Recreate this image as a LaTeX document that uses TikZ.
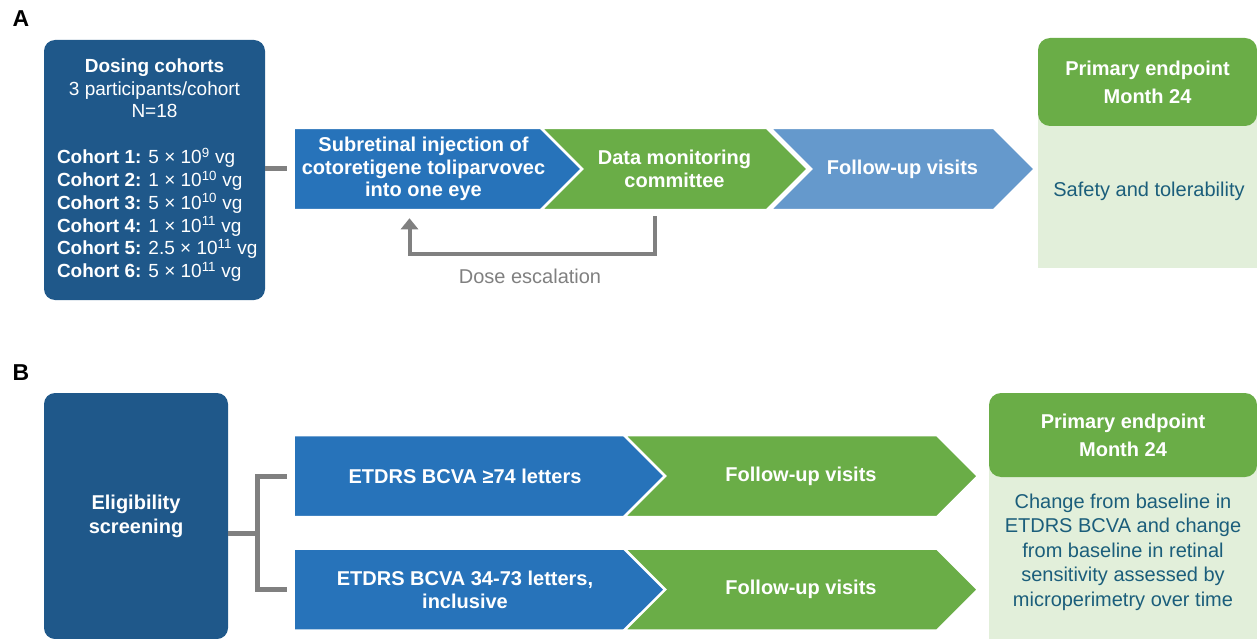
\documentclass[tikz,border=0pt]{standalone}
\usepackage{fontspec}
\setmainfont{Liberation Sans}
\usetikzlibrary{shapes.symbols,arrows.meta,positioning}

\definecolor{cohortblue}{RGB}{31,88,138}
\definecolor{stepblue}{RGB}{39,115,186}
\definecolor{stepgreen}{RGB}{106,173,71}
\definecolor{steplight}{RGB}{101,153,204}
\definecolor{palegreen}{RGB}{226,239,218}
\definecolor{tealtext}{RGB}{27,94,123}
\definecolor{linegrey}{RGB}{128,128,128}

\tikzset{
  chev/.style={signal, signal to=east, signal pointer angle=90, draw=white, line width=2.5pt,
    minimum height=82pt, inner sep=0pt, text=white, align=center,
    font=\fontsize{20}{22.8}\selectfont\bfseries},
  chevfirst/.style={chev, signal from=nowhere},
  chevnext/.style={chev, signal from=west},
  darkbox/.style={fill=cohortblue, rounded corners=11pt, text=white, inner sep=0pt,
    font=\fontsize{19}{22.8}\selectfont},
  endhead/.style={fill=stepgreen, rounded corners=12pt, text=white, align=center,
    font=\fontsize{20}{28}\selectfont\bfseries},
  bodytext/.style={text=tealtext, align=center, font=\fontsize{20}{24.5}\selectfont},
  linkline/.style={draw=linegrey, line width=5pt},
  loopline/.style={draw=linegrey, line width=4pt, -{Triangle[width=17pt,length=11pt]}},
  panel/.style={font=\fontsize{23}{23}\selectfont\bfseries}
}

\begin{document}
\begin{tikzpicture}[x=1pt,y=-1pt]
  \useasboundingbox (0,0) rectangle (1257,639);

  % panel A
  \node[panel] (labA) at (21,19) {A};
  \node[darkbox, minimum width=221pt, minimum height=260pt] (cohorts) at (154.5,170)
    {\parbox{221pt}{\centering\textbf{Dosing cohorts}\\3 participants/cohort\\N=18\par
      \vspace{23pt}\raggedright\leftskip=13pt
      \mbox{\textbf{Cohort 1:} 5 × 10\textsuperscript{9} vg}\\
      \mbox{\textbf{Cohort 2:} 1 × 10\textsuperscript{10} vg}\\
      \mbox{\textbf{Cohort 3:} 5 × 10\textsuperscript{10} vg}\\
      \mbox{\textbf{Cohort 4:} 1 × 10\textsuperscript{11} vg}\\
      \mbox{\textbf{Cohort 5:} 2.5 × 10\textsuperscript{11} vg}\\
      \mbox{\textbf{Cohort 6:} 5 × 10\textsuperscript{11} vg}}};

  \node[chevfirst, fill=stepblue, minimum width=301pt] (inject) at (423.5,169)
    {Subretinal injection of\\cotoretigene toliparvovec\\into one eye};
  \node[chevnext, fill=stepgreen, minimum width=267pt] (dmc) at (674.5,169)
    {Data monitoring\\committee};
  \node[chevnext, fill=steplight, minimum width=265pt] (visitA) at (902.5,169)
    {Follow-up visits};

  \fill[palegreen] (1038,90) rectangle (1257,268);
  \node[endhead, minimum width=219pt, minimum height=88pt] (endA) at (1147.5,82)
    {Primary endpoint\\Month 24};
  \node[bodytext] (safety) at (1149,191) {Safety and tolerability};

  \draw[linkline, shorten >=5pt] (cohorts.east |- inject.west) -- (inject.west);
  \draw[loopline, shorten <=5pt, shorten >=7pt] ([xshift=-20pt]dmc.south) -- ++(0,43)
    -| ([xshift=-14pt]inject.south);
  \node[text=linegrey, font=\fontsize{20}{22}\selectfont] (dose) at (530,276) {Dose escalation};

  % panel B
  \node[panel] (labB) at (21,373) {B};
  \node[darkbox, minimum width=184pt, minimum height=246pt, align=center,
    font=\fontsize{20}{24}\selectfont\bfseries] (elig) at (136,516) {Eligibility\\screening};

  \node[chevfirst, fill=stepblue, minimum width=384pt] (bcvaA) at (465,476)
    {ETDRS BCVA ≥74 letters};
  \node[chevnext, fill=stepgreen, minimum width=354pt] (visitB) at (801,476)
    {Follow-up visits};
  \node[chevfirst, fill=stepblue, minimum width=384pt] (bcvaB) at (465,589.5)
    {ETDRS BCVA 34-73 letters,\\inclusive};
  \node[chevnext, fill=stepgreen, minimum width=354pt] (visitC) at (801,589.5)
    {Follow-up visits};

  \coordinate (fork) at (257,533);
  \draw[linkline] (elig.east |- fork) -- (fork);
  \draw[linkline, shorten >=5pt] (fork) |- (bcvaA.west);
  \draw[linkline, shorten >=5pt] (fork) |- (bcvaB.west);

  \fill[palegreen] (989,440) rectangle (1257,639);
  \node[endhead, minimum width=268pt, minimum height=84pt] (endB) at (1123,435)
    {Primary endpoint\\Month 24};
  \node[bodytext] (change) at (1123,552)
    {Change from baseline in\\ETDRS BCVA and change\\from baseline in retinal\\sensitivity assessed by\\microperimetry over time};
\end{tikzpicture}
\end{document}
